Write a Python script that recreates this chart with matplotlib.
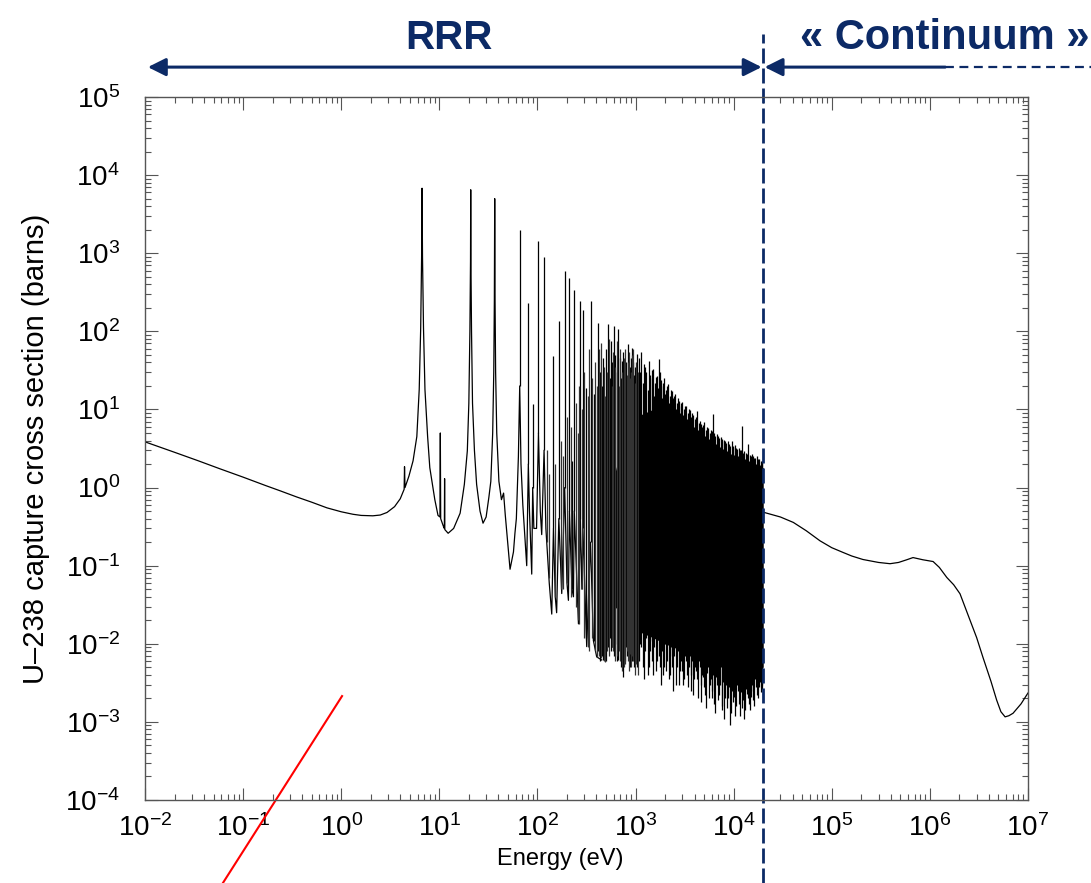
import numpy as np
import matplotlib.pyplot as plt
import matplotlib.transforms as mtransforms
from matplotlib.ticker import LogLocator
from matplotlib.patches import ArrowStyle

plt.rcParams['font.family'] = ['Liberation Sans', 'DejaVu Sans']
plt.rcParams['mathtext.fontset'] = 'custom'
plt.rcParams['mathtext.rm'] = 'Liberation Sans'
plt.rcParams['mathtext.it'] = 'Liberation Sans:italic'
plt.rcParams['mathtext.bf'] = 'Liberation Sans:bold'
plt.rcParams['mathtext.default'] = 'regular'

# smooth part: 1/v region, first big resonances and valleys between spikes (eV, barns)
base_E = [0.01, 0.02, 0.035, 0.058, 0.1, 0.17, 0.238, 0.35, 0.5, 0.716, 1.0, 1.32, 1.6, 2.1,
          2.5, 2.93, 3.5, 4.0, 4.38, 4.42, 4.47, 4.9, 5.4, 5.9, 6.24, 6.46, 6.6, 6.67, 6.74,
          6.9, 7.14, 7.6, 8.0, 9.0, 9.7, 10.15, 10.24, 10.33, 11.0, 11.26, 11.32, 11.38, 12.3,
          14.0, 16.3, 18.0, 19.3, 20.0, 20.5, 20.8, 20.9, 21.0, 21.3, 21.8, 22.8, 24.0, 26.0,
          27.9, 30.0, 32.0, 33.5, 35.0, 35.9, 36.4, 36.7, 37.0, 37.5, 38.5, 40.5, 43.0, 45.2,
          47.0, 52.6, 57.0, 59.0, 61.0, 64.0, 66.0, 68.0, 71.0, 77.8, 80.8, 83.0, 87.5, 89.5,
          92.0, 98.0, 102.5, 107.0, 110.6, 116.9, 122.0, 132.0, 140.0, 145.7, 152.0, 157.0,
          165.3, 177.0, 189.7, 200.0, 207.0, 211.8, 225.0, 233.0, 237.4, 262.0, 273.7, 284.0,
          291.0, 318.0, 347.8, 372.0, 402.0, 452.0]
base_xs = [3.85, 2.83, 2.2, 1.74, 1.36, 1.06, 0.91, 0.76, 0.65, 0.55, 0.49, 0.455, 0.44, 0.435,
           0.445, 0.48, 0.57, 0.72, 0.95, 1.85, 1.0, 1.4, 2.2, 4.5, 18, 110, 900, 6800, 900,
           110, 18, 4.5, 1.8, 0.7, 0.44, 0.42, 5.0, 0.4, 0.32, 0.3, 1.3, 0.29, 0.26,
           0.3, 0.47, 1.1, 2.95, 12, 100, 800, 6500, 800, 100, 12, 3.0, 1.1, 0.5,
           0.35, 0.42, 0.75, 1.2, 5.0, 30, 250, 5000, 250, 30, 5.0, 1.2, 0.7, 0.85,
           0.45, 0.09, 0.15, 0.26, 0.4, 2.5, 20, 2.0, 0.6, 0.1, 2.0, 0.5, 0.078, 1.0,
           0.3, 0.3, 5.0, 0.5, 0.25, 3.0, 0.3, 0.06, 0.024, 0.3, 0.04, 0.025,
           0.4, 0.044, 1.0, 0.06, 0.036, 0.5, 0.05, 0.04, 0.5, 0.018, 0.4, 0.05,
           0.3, 0.0092, 0.2, 0.011, 0.0068, 0.0062]

# resolved spikes above ~60 eV: energy, top, foot
spike_E = [66.0, 80.8, 89.5, 102.5, 116.9, 145.7, 165.3, 189.7, 211.8, 225.0, 237.4, 273.7,
           291.0, 313.0, 347.8, 380.0, 418, 435, 455, 470, 500, 528, 545, 558, 580, 604, 625,
           650, 668, 690, 710, 723, 745, 782, 800, 825, 846, 870, 890, 915, 940, 965, 990, 1028]
spike_top = [2000, 232, 11.6, 1420, 887, 48, 135, 590, 483, 2.2, 343, 248,
             190, 19, 243, 15.6, 128, 30, 20, 46, 60, 125, 25, 75, 40, 117, 50,
             30, 106, 45, 25, 41.6, 55, 31, 40, 22, 69, 35, 45, 62, 40, 28, 35, 51]
spike_bot = [20, 2.0, 1.0, 5.0, 3.0, 0.3, 0.4, 1.0, 0.5, 0.05, 0.5, 0.4,
             0.3, 0.012, 0.2, 0.011, 0.008, 0.006, 0.007, 0.0062, 0.006, 0.009, 0.012, 0.008,
             0.0091, 0.007, 0.01, 0.006, 0.0062, 0.009, 0.005, 0.007, 0.0038, 0.006, 0.009,
             0.007, 0.0075, 0.005, 0.008, 0.006, 0.009, 0.005, 0.0065, 0.005]

# smaller grey resonances filling in between, 120 eV - 1 keV
mid_E = [125, 131, 152, 172, 182, 198, 220, 250, 258, 266, 284, 300, 325, 335, 360, 390, 405,
         428, 445, 480, 490, 515, 535, 570, 590, 615, 640, 680, 700, 735, 760, 790, 812, 835,
         858, 880, 905, 928, 952, 978, 1003, 1050]
mid_top = [3, 1.5, 2.0, 4, 2.5, 8, 6, 12, 5, 20, 10, 30, 15, 60, 25, 40, 20,
           60, 70, 35, 15, 30, 80, 20, 55, 35, 75, 20, 60, 30, 45, 60, 28, 40,
           55, 25, 30, 50, 60, 22, 40, 30]
mid_bot = [0.2, 0.07, 0.04, 0.05, 0.05, 0.06, 0.04, 0.03, 0.02, 0.018, 0.05, 0.012, 0.009,
           0.008, 0.012, 0.008, 0.0068, 0.007, 0.0065, 0.006, 0.0059, 0.008, 0.007, 0.0091,
           0.008, 0.006, 0.007, 0.008, 0.006, 0.0045, 0.005, 0.0055, 0.008, 0.006, 0.0045,
           0.0075, 0.005, 0.007, 0.006, 0.004, 0.0055, 0.004]

# dense spikes, 1 keV - 20 keV
dense_E = [1080, 1150, 1230, 1290, 1360, 1420, 1500, 1580, 1650, 1720, 1800, 1890, 1960, 2050,
           2140, 2230, 2330, 2430, 2540, 2650, 2760, 2880, 3000, 3130, 3270, 3410, 3560, 3720,
           3880, 4050, 4230, 4410, 4600, 4800, 5000, 5230, 5460, 5700, 5950, 6200, 6480, 6760,
           7060, 7370, 7690, 8030, 8380, 8750, 9130, 9530, 9950, 10400, 10850, 11300, 11800,
           12300, 12850, 13400, 14000, 14600, 15250, 15900, 16600, 17300, 18100, 18900, 19600]
dense_top = [45, 55, 38, 30, 42, 28, 33, 22, 27, 44, 24, 20, 25, 18,
             21, 15, 17, 14, 16, 12, 13, 11, 12.5, 10, 11, 9, 9.8, 8,
             8.5, 7.5, 9.6, 6.8, 6.5, 6.0, 7.0, 5.5, 5.8, 5.0, 5.3, 8.7, 4.6, 4.8,
             4.3, 4.5, 3.9, 4.1, 3.7, 3.9, 3.4, 4.0, 3.3, 3.5, 3.1, 3.2, 3.0,
             6.2, 2.9, 2.8, 3.6, 2.6, 2.7, 2.5, 2.4, 2.5, 2.3, 2.2, 2.2]
dense_bot = [0.006, 0.009, 0.0035, 0.012, 0.005, 0.008, 0.004, 0.015, 0.006, 0.007, 0.003,
             0.01, 0.005, 0.0045, 0.012, 0.004, 0.007, 0.0025, 0.009, 0.005, 0.003, 0.008,
             0.0045, 0.0035, 0.006, 0.0028, 0.007, 0.004, 0.0022, 0.005, 0.0035, 0.006, 0.0018,
             0.004, 0.0028, 0.0015, 0.005, 0.003, 0.002, 0.004, 0.0013, 0.003, 0.0022, 0.005,
             0.0016, 0.0011, 0.003, 0.002, 0.0009, 0.0025, 0.0018, 0.0012, 0.003, 0.0017,
             0.0024, 0.0015, 0.0011, 0.0026, 0.002, 0.0014, 0.003, 0.0019, 0.0035, 0.0022,
             0.0028, 0.0024, 0.003]
dense2_E = [1115, 1190, 1260, 1325, 1390, 1460, 1540, 1615, 1685, 1760, 1845, 1925, 2005, 2095,
            2185, 2280, 2380, 2485, 2595, 2705, 2820, 2940, 3065, 3200, 3340, 3485, 3640, 3800,
            3965, 4140, 4320, 4505, 4700, 4900, 5115, 5345, 5580, 5825, 6075, 6340, 6620, 6910,
            7215, 7530, 7860, 8205, 8565, 8940, 9330, 9740, 10175, 10625, 11075, 11550, 12050,
            12575, 13125, 13700, 14300, 14925, 15575, 16250, 16950, 17700, 18500, 19250]
dense2_top = [30, 22, 35, 18, 25, 32, 15, 26, 19, 30, 14, 22, 16, 20,
              12, 18, 11, 15, 10, 14, 9, 12, 8.5, 11, 7.5, 10, 7, 9,
              6, 8, 5.5, 7.2, 5, 6.3, 4.6, 6, 4.2, 5.4, 4, 5, 3.6, 4.6,
              3.3, 4.2, 3.1, 3.9, 2.9, 3.6, 2.7, 3.4, 2.6, 3.2, 2.5, 3.0, 2.4,
              2.8, 2.3, 2.7, 2.2, 2.5, 2.1, 2.4, 2.0, 2.3, 1.95, 2.1]
dense2_bot = [0.01, 0.005, 0.008, 0.004, 0.011, 0.006, 0.009, 0.0045, 0.012, 0.005, 0.008,
              0.004, 0.01, 0.006, 0.0035, 0.009, 0.005, 0.007, 0.003, 0.008, 0.0045, 0.006,
              0.003, 0.007, 0.004, 0.005, 0.0025, 0.006, 0.0035, 0.0045, 0.002, 0.005, 0.003,
              0.0038, 0.0022, 0.0042, 0.002, 0.0035, 0.0025, 0.0017, 0.0038, 0.0019, 0.003,
              0.0014, 0.0032, 0.002, 0.0015, 0.0028, 0.0013, 0.003, 0.0021, 0.0016, 0.0025,
              0.0012, 0.0027, 0.0019, 0.0014, 0.0023, 0.0017, 0.0021, 0.0025, 0.0016, 0.0028,
              0.002, 0.0032, 0.0026]

# solid black core of the resolved range
core_E = [500, 700, 1000, 1500, 2000, 4000, 8000, 20000]
core_top = [0.5, 3.0, 8.0, 10, 9.0, 5.0, 2.8, 1.8]
core_bot = [0.04, 0.025, 0.015, 0.012, 0.01, 0.007, 0.0055, 0.005]

# continuum above 20 keV
cont_E = [2.04e4, 3.0e4, 4.06e4, 5.5e4, 7.6e4, 1.0e5, 1.30e5, 1.6e5, 2.08e5, 3.0e5, 3.93e5,
          4.8e5, 5.81e5, 6.74e5, 8.5e5, 1.08e6, 1.25e6, 1.49e6, 1.75e6, 2.03e6, 2.57e6,
          3.0e6, 3.48e6, 4.2e6, 4.8e6, 5.3e6, 5.85e6, 6.4e6, 7.05e6, 8.5e6, 1e7]
cont_xs = [0.481, 0.42, 0.358, 0.28, 0.208, 0.17, 0.148, 0.133, 0.120, 0.11, 0.106,
           0.11, 0.119, 0.127, 0.119, 0.113, 0.095, 0.0706, 0.057, 0.0437, 0.020,
           0.012, 0.0067, 0.0033, 0.0019, 0.00135, 0.00116, 0.0012, 0.00129, 0.0017, 0.00234]

rrr_limit = 2.0e4
navy = '#0c2a66'

fig = plt.figure(figsize=(10.91, 8.83), dpi=100)
ax = fig.add_axes([0.1329, 0.0940, 0.8093, 0.7961])

ax.fill_between(core_E, core_bot, core_top, color='k', lw=0)
ax.plot(base_E, base_xs, color='k', lw=0.9)
ax.vlines(spike_E, spike_bot, spike_top, colors='k', lw=0.9)
ax.vlines(mid_E, mid_bot, mid_top, colors='#333333', lw=0.9)
ax.vlines(dense_E, dense_bot, dense_top, colors='k', lw=0.9)
ax.vlines(dense2_E, dense2_bot, dense2_top, colors='k', lw=0.9)
ax.plot(cont_E, cont_xs, color='k', lw=0.9)

ax.set_xscale('log')
ax.set_yscale('log')
ax.set_xlim(1e-2, 1e7)
ax.set_ylim(1e-4, 1e5)
for axis in (ax.xaxis, ax.yaxis):
    axis.set_major_locator(LogLocator(base=10, numticks=20))
    axis.set_minor_locator(LogLocator(base=10, subs=np.arange(2, 10), numticks=20))
ax.tick_params(which='both', direction='in', top=True, right=True, labelsize=20,
               width=0.8, color='#555555')
ax.tick_params(which='major', length=9)
ax.tick_params(which='minor', length=4.5)
ax.tick_params(axis='x', pad=10)
ax.tick_params(axis='y', pad=18)
for sp in ax.spines.values():
    sp.set_color('#555555')
    sp.set_linewidth(1.0)

ax.set_xlabel('Energy (eV)', fontsize=17)
ax.xaxis.set_label_coords(0.47, -0.068)
ax.set_ylabel('U\u2013238 capture cross section (barns)', fontsize=21)
ax.yaxis.set_label_coords(-0.108, 0.5)

# boundary between resolved range and continuum
trans = mtransforms.blended_transform_factory(ax.transData, fig.transFigure)
ax.plot([rrr_limit, rrr_limit], [0.0, 0.962], transform=trans, clip_on=False,
        color=navy, lw=2, dashes=(5.4, 1.8))

y_arrow = 0.924
head = ArrowStyle('<|-|>', head_length=0.9, head_width=0.45)
ax.annotate('', xy=(0.0107, y_arrow), xytext=(1.93e4, y_arrow), xycoords=trans,
            textcoords=trans, annotation_clip=False,
            arrowprops=dict(arrowstyle=head, color=navy, lw=2.2, shrinkA=0, shrinkB=0,
                            mutation_scale=12))
ax.annotate('', xy=(2.07e4, y_arrow), xytext=(1.43e6, y_arrow), xycoords=trans,
            textcoords=trans, annotation_clip=False,
            arrowprops=dict(arrowstyle=ArrowStyle('-|>', head_length=0.9, head_width=0.45),
                            color=navy, lw=2.2, shrinkA=0, shrinkB=0, mutation_scale=12))
ax.plot([1.43e6, 5e7], [y_arrow, y_arrow], transform=trans, clip_on=False,
        color=navy, lw=1.6, dashes=(4, 2.5))

fig.text(449 / 1091, 1 - 38 / 883, 'RRR', ha='center', va='center', fontsize=29,
         fontweight='bold', color=navy)
fig.text(800 / 1091, 1 - 38 / 883, '\u00ab Continuum \u00bb', ha='left', va='center',
         fontsize=30, fontweight='bold', color=navy)

# stray red pointer line
ax.plot([1.02, 0.0624], [2.14e-3, 8.7e-6], color='red', lw=1.5, clip_on=False)

fig.savefig('out.png', dpi=100)
